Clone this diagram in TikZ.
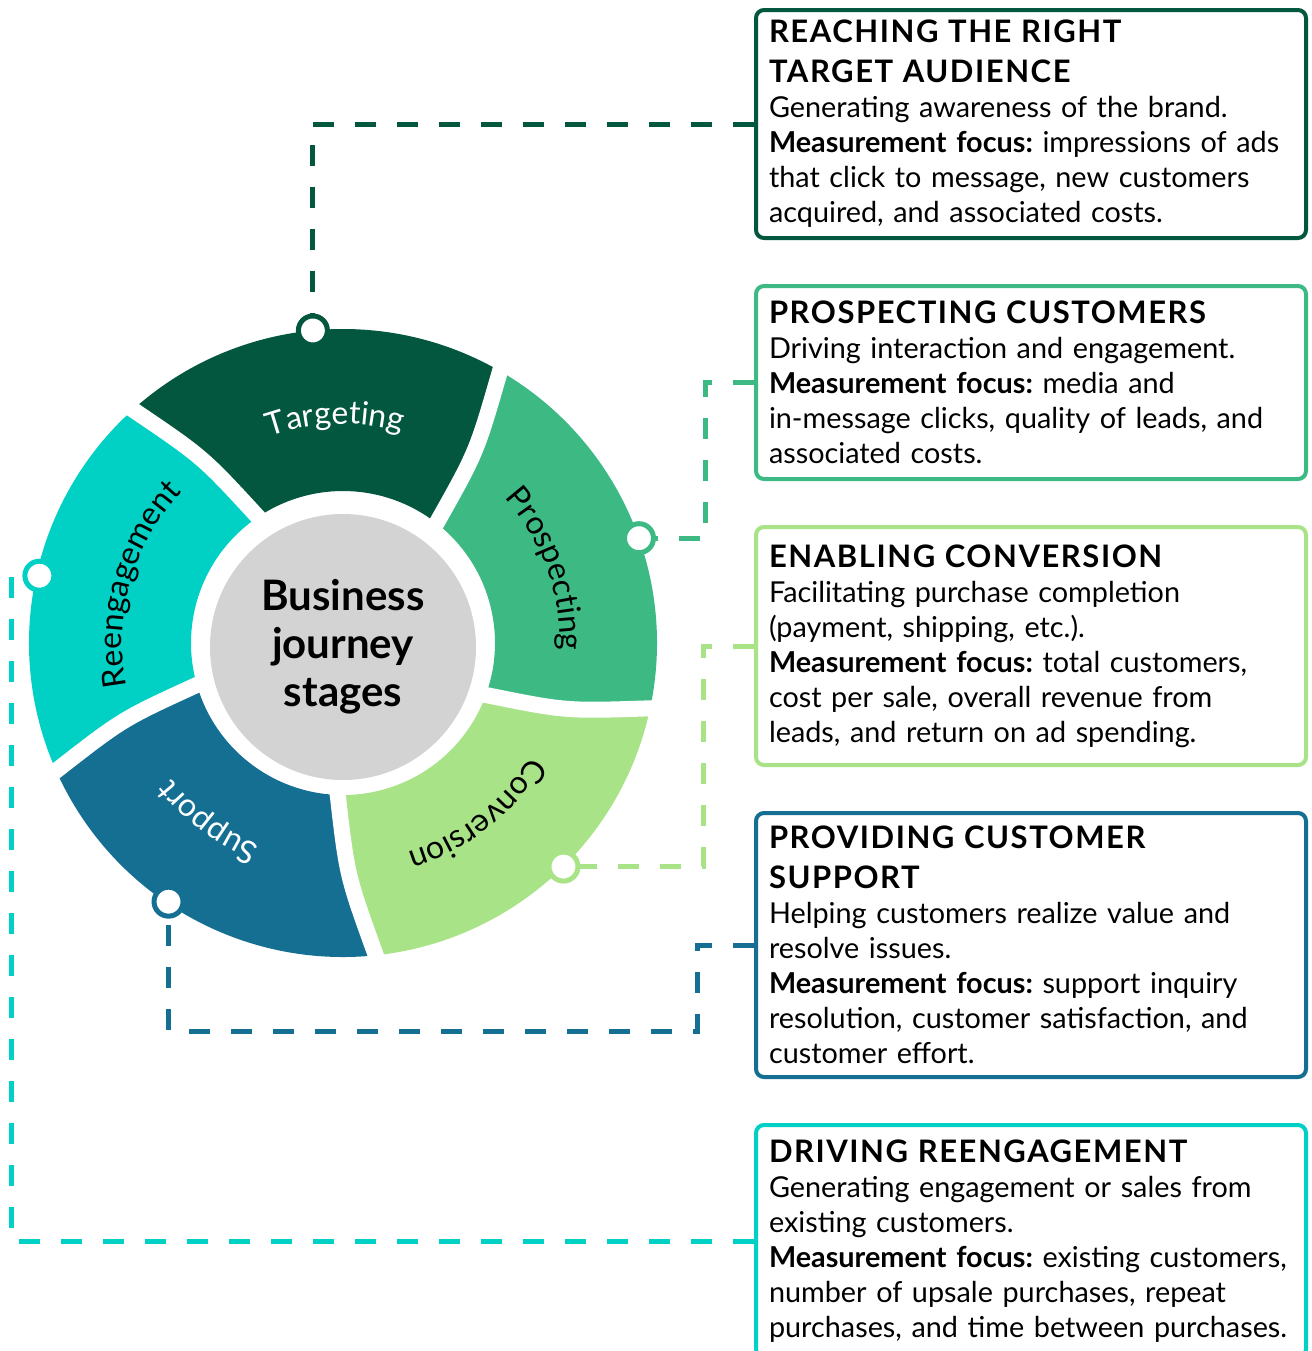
\documentclass[tikz,border=0pt]{standalone}
\usepackage{fontspec}
\setmainfont{Lato}
\usepackage{tikz}
\usetikzlibrary{positioning,calc,decorations.text}
\usepackage{xcolor}
\frenchspacing

\definecolor{colT}{HTML}{04573F}
\definecolor{colP}{HTML}{3DBA84}
\definecolor{colC}{HTML}{A9E387}
\definecolor{colS}{HTML}{146F93}
\definecolor{colR}{HTML}{00D1C4}
\definecolor{hubgrey}{HTML}{D3D3D3}

\newcommand{\titlefont}{\fontsize{15.5pt}{20pt}\selectfont\bfseries\addfontfeatures{LetterSpace=5}}
\newcommand{\bodyfont}{\fontsize{14.4pt}{17.5pt}\selectfont}
\newcommand{\segfont}{\fontsize{16pt}{18pt}\selectfont}

\tikzstyle{box} = [rectangle, rounded corners=4pt, line width=2pt, minimum width=275pt, text width=262pt, inner xsep=6.5pt, align=left, font=\bodyfont]
\tikzstyle{hub} = [circle, fill=hubgrey, minimum size=133pt, align=center, font=\fontsize{21pt}{24pt}\selectfont\bfseries]
\tikzstyle{marker} = [circle, fill=white, line width=2.5pt, minimum size=14.5pt, inner sep=0pt]
\tikzstyle{link} = [line width=2.5pt, dash pattern=on 10.5pt off 10.5pt]
\tikzstyle{gap} = [draw=white, line width=8pt, line cap=rect]

\begin{document}
\begin{tikzpicture}[x=0.5pt, y=0.5pt]
    \useasboundingbox (0,0) rectangle (1312,-1351);

    % Wheel
    \begin{scope}[shift={(343,-643)}]
        \fill[colT] (60:314) arc[start angle=60, end angle=132, radius=314] .. controls (127:233) .. (124:152) arc[start angle=124, end angle=52, radius=152] .. controls (55:233) .. (60:314) -- cycle;
        \fill[colR] (132:314) arc[start angle=132, end angle=204, radius=314] .. controls (199:233) .. (196:152) arc[start angle=196, end angle=124, radius=152] .. controls (127:233) .. (132:314) -- cycle;
        \fill[colS] (204:314) arc[start angle=204, end angle=276, radius=314] .. controls (271:233) .. (268:152) arc[start angle=268, end angle=196, radius=152] .. controls (199:233) .. (204:314) -- cycle;
        \fill[colC] (276:314) arc[start angle=276, end angle=348, radius=314] .. controls (343:233) .. (340:152) arc[start angle=340, end angle=268, radius=152] .. controls (271:233) .. (276:314) -- cycle;
        \fill[colP] (348:314) arc[start angle=348, end angle=420, radius=314] .. controls (415:233) .. (412:152) arc[start angle=412, end angle=340, radius=152] .. controls (343:233) .. (348:314) -- cycle;

        % white cuts between the stages
        \draw[gap] (52:152) .. controls (55:233) .. (60:314);
        \draw[gap] (124:152) .. controls (127:233) .. (132:314);
        \draw[gap] (196:152) .. controls (199:233) .. (204:314);
        \draw[gap] (268:152) .. controls (271:233) .. (276:314);
        \draw[gap] (340:152) .. controls (343:233) .. (348:314);

        \node[hub] (hub) at (0,-4) {Business\\journey\\stages};

        % Stage names
        \path[decorate, decoration={text along path, text={|\segfont|Targeting}, text align=center, text color=white}] (152:219) arc[start angle=152, end angle=32, radius=219];
        \path[decorate, decoration={text along path, text={|\segfont|Prospecting}, text align=center}] (80:217) arc[start angle=80, end angle=-40, radius=217];
        \path[decorate, decoration={text along path, text={|\segfont|Conversion}, text align=center}] (8:219) arc[start angle=8, end angle=-112, radius=219];
        \path[decorate, decoration={text along path, text={|\segfont|Support}, text align=center, text color=white}] (293:219) arc[start angle=293, end angle=173, radius=219];
        \path[decorate, decoration={text along path, text={|\segfont|Reengagement}, text align=center}] (224:221) arc[start angle=224, end angle=104, radius=221];

        % Markers
        \node[marker, draw=colT] (mT) at (95.5:314) {};
        \node[marker, draw=colP] (mP) at (19.5:314) {};
        \node[marker, draw=colC] (mC) at (-45.4:314) {};
        \node[marker, draw=colS] (mS) at (236:312) {};
        \node[marker, draw=colR] (mR) at (167.5:311) {};
    \end{scope}

    % Boxes
    \node (bT) [box, draw=colT, minimum height=114pt, anchor=north west] at (754,-8) {{\titlefont REACHING THE RIGHT\\TARGET AUDIENCE\par}Generating awareness of the brand.\\\textbf{Measurement focus:} impressions of ads\\that click to message, new customers\\acquired, and associated costs.};
    \node (bP) [box, draw=colP, minimum height=96.5pt, below=22pt of bT] {{\titlefont PROSPECTING CUSTOMERS\par}Driving interaction and engagement.\\\textbf{Measurement focus:} media and\\in-message clicks, quality of leads, and\\associated costs.};
    \node (bC) [box, draw=colC, minimum height=119pt, below=22pt of bP] {{\titlefont ENABLING CONVERSION\par}Facilitating purchase completion\\(payment, shipping, etc.).\\\textbf{Measurement focus:} total customers,\\cost per sale, overall revenue from\\leads, and return on ad spending.};
    \node (bS) [box, draw=colS, minimum height=132pt, below=22pt of bC] {{\titlefont PROVIDING CUSTOMER\\SUPPORT\par}Helping customers realize value and\\resolve issues.\\\textbf{Measurement focus:} support inquiry\\resolution, customer satisfaction, and\\customer effort.};
    \node (bR) [box, draw=colR, minimum height=116pt, below=22pt of bS] {{\titlefont DRIVING REENGAGEMENT\par}Generating engagement or sales from\\existing customers.\\\textbf{Measurement focus:} existing customers,\\number of upsale purchases, repeat\\purchases, and time between purchases.};

    % Links
    \draw [link, draw=colT] (bT.west) -| (mT);
    \draw [link, draw=colP] (bP.west) -- ++(-49,0) |- (mP);
    \draw [link, draw=colC] (bC.west) -- ++(-51,0) |- (mC);
    \draw [link, draw=colS] (bS.west) -- ++(-57,0) -- ++(0,-86) -| (mS);
    \draw [link, draw=colR] (bR.west) -- ++(-743,0) |- (mR);

\end{tikzpicture}
\end{document}
